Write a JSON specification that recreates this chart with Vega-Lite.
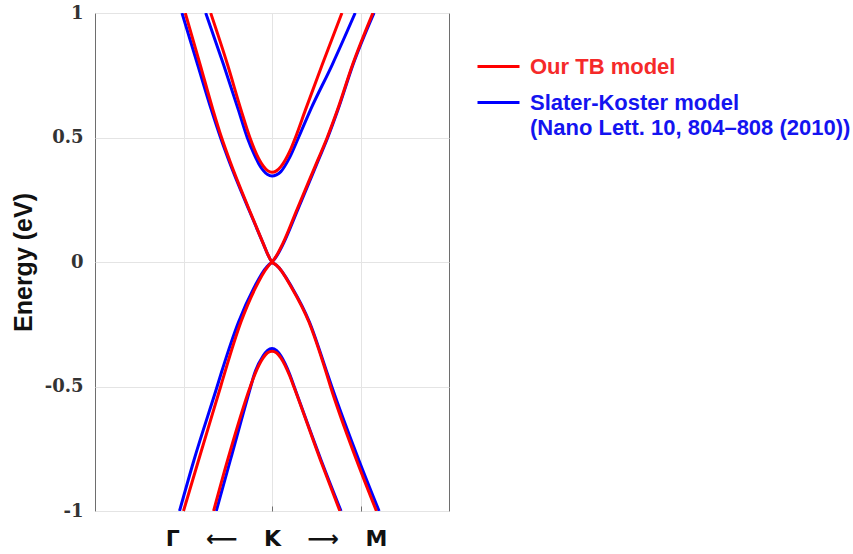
{
  "$schema": "https://vega.github.io/schema/vega-lite/v6.json",
  "width": 354,
  "height": 498,
  "autosize": {"type": "none"},
  "padding": {"left": 95, "top": 13, "right": 404, "bottom": 43},
  "background": "white",
  "config": {
    "view": {"stroke": "#6e6e6e", "strokeWidth": 1},
    "axis": {"gridColor": "#e4e4e4", "gridWidth": 1}
  },
  "datasets": {
    "bands": [
      {"model": "Our TB model", "band": "c2", "k": 1.307, "E": 1},
      {"model": "Our TB model", "band": "c2", "k": 1.498, "E": 0.792},
      {"model": "Our TB model", "band": "c2", "k": 1.65, "E": 0.611},
      {"model": "Our TB model", "band": "c2", "k": 1.75, "E": 0.5},
      {"model": "Our TB model", "band": "c2", "k": 1.8, "E": 0.454},
      {"model": "Our TB model", "band": "c2", "k": 1.85, "E": 0.415},
      {"model": "Our TB model", "band": "c2", "k": 1.9, "E": 0.386},
      {"model": "Our TB model", "band": "c2", "k": 1.95, "E": 0.367},
      {"model": "Our TB model", "band": "c2", "k": 2.0, "E": 0.36},
      {"model": "Our TB model", "band": "c2", "k": 2.05, "E": 0.366},
      {"model": "Our TB model", "band": "c2", "k": 2.1, "E": 0.383},
      {"model": "Our TB model", "band": "c2", "k": 2.2, "E": 0.444},
      {"model": "Our TB model", "band": "c2", "k": 2.265, "E": 0.5},
      {"model": "Our TB model", "band": "c2", "k": 2.378, "E": 0.611},
      {"model": "Our TB model", "band": "c2", "k": 2.567, "E": 0.792},
      {"model": "Our TB model", "band": "c2", "k": 2.79, "E": 1},

      {"model": "Our TB model", "band": "c1", "k": 1.02, "E": 1},
      {"model": "Our TB model", "band": "c1", "k": 1.189, "E": 0.792},
      {"model": "Our TB model", "band": "c1", "k": 1.333, "E": 0.611},
      {"model": "Our TB model", "band": "c1", "k": 1.43, "E": 0.5},
      {"model": "Our TB model", "band": "c1", "k": 1.52, "E": 0.41},
      {"model": "Our TB model", "band": "c1", "k": 1.744, "E": 0.209},
      {"model": "Our TB model", "band": "c1", "k": 1.9, "E": 0.075},
      {"model": "Our TB model", "band": "c1", "k": 1.96, "E": 0.025},
      {"model": "Our TB model", "band": "c1", "k": 2.0, "E": 0.003},
      {"model": "Our TB model", "band": "c1", "k": 2.04, "E": 0.02},
      {"model": "Our TB model", "band": "c1", "k": 2.123, "E": 0.075},
      {"model": "Our TB model", "band": "c1", "k": 2.28, "E": 0.209},
      {"model": "Our TB model", "band": "c1", "k": 2.518, "E": 0.41},
      {"model": "Our TB model", "band": "c1", "k": 2.624, "E": 0.5},
      {"model": "Our TB model", "band": "c1", "k": 2.74, "E": 0.611},
      {"model": "Our TB model", "band": "c1", "k": 2.91, "E": 0.792},
      {"model": "Our TB model", "band": "c1", "k": 3.14, "E": 1},

      {"model": "Our TB model", "band": "v1", "k": 1.0, "E": -1},
      {"model": "Our TB model", "band": "v1", "k": 1.17, "E": -0.796},
      {"model": "Our TB model", "band": "v1", "k": 1.42, "E": -0.5},
      {"model": "Our TB model", "band": "v1", "k": 1.463, "E": -0.448},
      {"model": "Our TB model", "band": "v1", "k": 1.65, "E": -0.24},
      {"model": "Our TB model", "band": "v1", "k": 1.81, "E": -0.106},
      {"model": "Our TB model", "band": "v1", "k": 1.95, "E": -0.02},
      {"model": "Our TB model", "band": "v1", "k": 2.0, "E": -0.003},
      {"model": "Our TB model", "band": "v1", "k": 2.05, "E": -0.013},
      {"model": "Our TB model", "band": "v1", "k": 2.227, "E": -0.106},
      {"model": "Our TB model", "band": "v1", "k": 2.416, "E": -0.24},
      {"model": "Our TB model", "band": "v1", "k": 2.616, "E": -0.448},
      {"model": "Our TB model", "band": "v1", "k": 2.661, "E": -0.5},
      {"model": "Our TB model", "band": "v1", "k": 2.956, "E": -0.796},
      {"model": "Our TB model", "band": "v1", "k": 3.18, "E": -1},

      {"model": "Our TB model", "band": "v2", "k": 1.34, "E": -1},
      {"model": "Our TB model", "band": "v2", "k": 1.498, "E": -0.796},
      {"model": "Our TB model", "band": "v2", "k": 1.755, "E": -0.5},
      {"model": "Our TB model", "band": "v2", "k": 1.812, "E": -0.446},
      {"model": "Our TB model", "band": "v2", "k": 1.9, "E": -0.385},
      {"model": "Our TB model", "band": "v2", "k": 1.95, "E": -0.364},
      {"model": "Our TB model", "band": "v2", "k": 2.0, "E": -0.358},
      {"model": "Our TB model", "band": "v2", "k": 2.05, "E": -0.364},
      {"model": "Our TB model", "band": "v2", "k": 2.1, "E": -0.385},
      {"model": "Our TB model", "band": "v2", "k": 2.2, "E": -0.457},
      {"model": "Our TB model", "band": "v2", "k": 2.246, "E": -0.5},
      {"model": "Our TB model", "band": "v2", "k": 2.548, "E": -0.796},
      {"model": "Our TB model", "band": "v2", "k": 2.767, "E": -1},

      {"model": "Slater-Koster model", "band": "c2", "k": 1.251, "E": 1},
      {"model": "Slater-Koster model", "band": "c2", "k": 1.453, "E": 0.792},
      {"model": "Slater-Koster model", "band": "c2", "k": 1.62, "E": 0.611},
      {"model": "Slater-Koster model", "band": "c2", "k": 1.72, "E": 0.5},
      {"model": "Slater-Koster model", "band": "c2", "k": 1.8, "E": 0.431},
      {"model": "Slater-Koster model", "band": "c2", "k": 1.85, "E": 0.395},
      {"model": "Slater-Koster model", "band": "c2", "k": 1.9, "E": 0.368},
      {"model": "Slater-Koster model", "band": "c2", "k": 1.95, "E": 0.351},
      {"model": "Slater-Koster model", "band": "c2", "k": 2.0, "E": 0.345},
      {"model": "Slater-Koster model", "band": "c2", "k": 2.05, "E": 0.35},
      {"model": "Slater-Koster model", "band": "c2", "k": 2.1, "E": 0.363},
      {"model": "Slater-Koster model", "band": "c2", "k": 2.2, "E": 0.42},
      {"model": "Slater-Koster model", "band": "c2", "k": 2.3, "E": 0.5},
      {"model": "Slater-Koster model", "band": "c2", "k": 2.435, "E": 0.611},
      {"model": "Slater-Koster model", "band": "c2", "k": 2.68, "E": 0.792},
      {"model": "Slater-Koster model", "band": "c2", "k": 2.94, "E": 1},

      {"model": "Slater-Koster model", "band": "c1", "k": 0.983, "E": 1},
      {"model": "Slater-Koster model", "band": "c1", "k": 1.16, "E": 0.792},
      {"model": "Slater-Koster model", "band": "c1", "k": 1.315, "E": 0.611},
      {"model": "Slater-Koster model", "band": "c1", "k": 1.418, "E": 0.5},
      {"model": "Slater-Koster model", "band": "c1", "k": 1.51, "E": 0.41},
      {"model": "Slater-Koster model", "band": "c1", "k": 1.74, "E": 0.209},
      {"model": "Slater-Koster model", "band": "c1", "k": 1.9, "E": 0.075},
      {"model": "Slater-Koster model", "band": "c1", "k": 1.96, "E": 0.025},
      {"model": "Slater-Koster model", "band": "c1", "k": 2.0, "E": 0.003},
      {"model": "Slater-Koster model", "band": "c1", "k": 2.045, "E": 0.02},
      {"model": "Slater-Koster model", "band": "c1", "k": 2.13, "E": 0.075},
      {"model": "Slater-Koster model", "band": "c1", "k": 2.29, "E": 0.209},
      {"model": "Slater-Koster model", "band": "c1", "k": 2.525, "E": 0.41},
      {"model": "Slater-Koster model", "band": "c1", "k": 2.63, "E": 0.5},
      {"model": "Slater-Koster model", "band": "c1", "k": 2.745, "E": 0.611},
      {"model": "Slater-Koster model", "band": "c1", "k": 2.915, "E": 0.792},
      {"model": "Slater-Koster model", "band": "c1", "k": 3.153, "E": 1},

      {"model": "Slater-Koster model", "band": "v1", "k": 0.955, "E": -1},
      {"model": "Slater-Koster model", "band": "v1", "k": 1.118, "E": -0.796},
      {"model": "Slater-Koster model", "band": "v1", "k": 1.38, "E": -0.5},
      {"model": "Slater-Koster model", "band": "v1", "k": 1.425, "E": -0.448},
      {"model": "Slater-Koster model", "band": "v1", "k": 1.623, "E": -0.24},
      {"model": "Slater-Koster model", "band": "v1", "k": 1.793, "E": -0.106},
      {"model": "Slater-Koster model", "band": "v1", "k": 1.94, "E": -0.02},
      {"model": "Slater-Koster model", "band": "v1", "k": 2.0, "E": -0.003},
      {"model": "Slater-Koster model", "band": "v1", "k": 2.05, "E": -0.013},
      {"model": "Slater-Koster model", "band": "v1", "k": 2.232, "E": -0.106},
      {"model": "Slater-Koster model", "band": "v1", "k": 2.422, "E": -0.24},
      {"model": "Slater-Koster model", "band": "v1", "k": 2.625, "E": -0.448},
      {"model": "Slater-Koster model", "band": "v1", "k": 2.675, "E": -0.5},
      {"model": "Slater-Koster model", "band": "v1", "k": 2.982, "E": -0.796},
      {"model": "Slater-Koster model", "band": "v1", "k": 3.21, "E": -1},

      {"model": "Slater-Koster model", "band": "v2", "k": 1.37, "E": -1},
      {"model": "Slater-Koster model", "band": "v2", "k": 1.529, "E": -0.796},
      {"model": "Slater-Koster model", "band": "v2", "k": 1.76, "E": -0.5},
      {"model": "Slater-Koster model", "band": "v2", "k": 1.8, "E": -0.451},
      {"model": "Slater-Koster model", "band": "v2", "k": 1.9, "E": -0.377},
      {"model": "Slater-Koster model", "band": "v2", "k": 1.95, "E": -0.355},
      {"model": "Slater-Koster model", "band": "v2", "k": 2.0, "E": -0.347},
      {"model": "Slater-Koster model", "band": "v2", "k": 2.05, "E": -0.355},
      {"model": "Slater-Koster model", "band": "v2", "k": 2.1, "E": -0.377},
      {"model": "Slater-Koster model", "band": "v2", "k": 2.2, "E": -0.451},
      {"model": "Slater-Koster model", "band": "v2", "k": 2.25, "E": -0.5},
      {"model": "Slater-Koster model", "band": "v2", "k": 2.555, "E": -0.796},
      {"model": "Slater-Koster model", "band": "v2", "k": 2.78, "E": -1}
    ]
  },
  "data": {"name": "bands"},
  "encoding": {
    "x": {
      "field": "k",
      "type": "quantitative",
      "scale": {"domain": [0, 4], "nice": false, "zero": false},
      "axis": {
        "values": [1, 2, 3],
        "labels": false,
        "ticks": true,
        "tickSize": -5,
        "tickColor": "#6e6e6e",
        "domain": false,
        "grid": true,
        "title": "Γ\u2003\u2009⟵\u2003\u2009K\u2003\u2009⟶\u2003\u2009M",
        "titleFont": "DejaVu Sans",
        "titleFontSize": 22,
        "titleFontWeight": "bold",
        "titleColor": "#111111",
        "titleX": 181,
        "titleY": 34,
        "titleAlign": "center",
        "titleBaseline": "alphabetic"
      }
    },
    "y": {
      "field": "E",
      "type": "quantitative",
      "scale": {"domain": [-1, 1], "nice": false, "zero": false},
      "axis": {
        "values": [-1, -0.5, 0, 0.5, 1],
        "labelExpr": "'' + datum.value",
        "labelFont": "DejaVu Serif",
        "labelFontWeight": "bold",
        "labelFontSize": 18,
        "labelColor": "#333333",
        "labelFlush": false,
        "labelOverlap": false,
        "labelPadding": 12,
        "ticks": false,
        "domain": false,
        "grid": true,
        "title": "Energy (eV)",
        "titleFont": "Liberation Sans",
        "titleFontSize": 25,
        "titleFontWeight": "bold",
        "titleColor": "#111111",
        "titlePadding": 8
      }
    },
    "color": {
      "field": "model",
      "type": "nominal",
      "scale": {"domain": ["Our TB model", "Slater-Koster model"], "range": ["#ff0000", "#0000ff"]},
      "legend": {
        "orient": "none",
        "legendX": 381,
        "legendY": 31,
        "padding": 0,
        "title": null,
        "symbolType": "stroke",
        "symbolSize": 1764,
        "symbolStrokeWidth": 3,
        "labelFont": "Liberation Sans",
        "labelFontSize": 22,
        "labelFontWeight": "bold",
        "labelOffset": 9,
        "labelLimit": 420,
        "rowPadding": 2,
        "labelExpr": "datum.label == 'Slater-Koster model' ? ['Slater-Koster model', '(Nano Lett. 10, 804–808 (2010))'] : datum.label",
        "encode": {
          "labels": {
            "update": {
              "fill": {"signal": "datum.value == 'Our TB model' ? '#f52a2a' : '#1414f0'"},
              "lineHeight": {"value": 25}
            }
          }
        }
      }
    },
    "detail": {"field": "band"}
  },
  "layer": [
    {
      "transform": [{"filter": "datum.model == 'Slater-Koster model'"}],
      "mark": {"type": "line", "strokeWidth": 3, "clip": true, "interpolate": "monotone"}
    },
    {
      "transform": [{"filter": "datum.model == 'Our TB model'"}],
      "mark": {"type": "line", "strokeWidth": 3, "clip": true, "interpolate": "monotone"}
    }
  ]
}
